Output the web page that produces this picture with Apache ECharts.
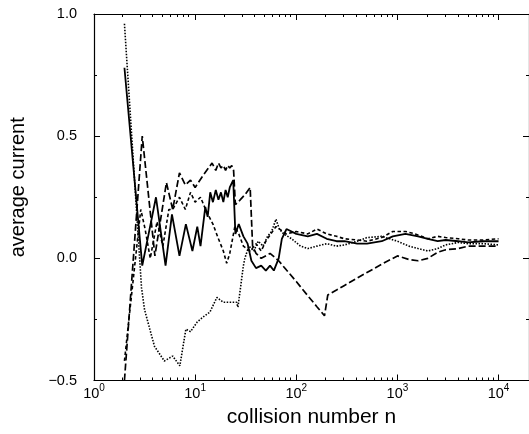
<!DOCTYPE html>
<html><head><meta charset="utf-8">
<script src="https://cdn.jsdelivr.net/npm/echarts@6/dist/echarts.min.js"></script>
<style>html,body{margin:0;padding:0;background:#fff;overflow:hidden}#c{width:529px;height:434px}</style>
</head><body><div id="c"></div>
<script>
// ---- data ----
const nSolid = [2, 3, 4.1, 5.1, 5.9, 7, 8.1, 9.4, 10.5, 11.3, 12.6, 13.3, 14.1, 15, 16, 17, 18, 19, 20, 21, 22, 23.8, 25, 27, 30, 33, 36, 40, 45, 50, 55, 60, 67, 72, 80, 100, 130, 160, 200, 250, 300, 400, 500, 700, 900, 1200, 1600, 2000, 2500, 3000, 4000, 5000, 7000, 10000];
const ySolid = [0.78, -0.03, 0.25, -0.03, 0.18, 0.01, 0.14, 0.03, 0.13, 0.05, 0.21, 0.17, 0.27, 0.23, 0.28, 0.24, 0.27, 0.23, 0.28, 0.25, 0.29, 0.32, 0.10, 0.14, 0.09, 0.06, -0.01, -0.04, -0.03, -0.05, -0.03, -0.05, 0.0, 0.08, 0.12, 0.10, 0.09, 0.10, 0.08, 0.07, 0.07, 0.06, 0.06, 0.07, 0.09, 0.10, 0.09, 0.08, 0.07, 0.075, 0.07, 0.065, 0.07, 0.07];

const nDotted = [2, 2.95, 3.16, 3.96, 4.96, 6.0, 7.06, 8.1, 9, 10.5, 12, 14, 16.4, 19, 25.7, 26.5, 30, 31, 34, 38, 42, 47, 52, 57, 63, 68, 75, 90, 110, 130, 160, 200, 250, 300, 400, 500, 700, 1000, 1300, 1600, 2000, 2500, 3000, 4000, 5000, 7000, 10000];
const yDotted = [0.96, -0.12, -0.21, -0.36, -0.42, -0.40, -0.44, -0.29, -0.30, -0.26, -0.24, -0.22, -0.16, -0.18, -0.18, -0.20, -0.03, 0.0, 0.05, 0.03, 0.07, 0.05, 0.09, 0.11, 0.16, 0.12, 0.10, 0.08, 0.05, 0.04, 0.05, 0.06, 0.05, 0.055, 0.07, 0.085, 0.09, 0.07, 0.05, 0.04, 0.03, 0.04, 0.055, 0.065, 0.06, 0.06, 0.055];

const nLongDash = [2, 3, 4, 5.2, 6, 7, 8, 9, 10, 12, 14.7, 16, 17, 18, 19, 20, 21, 22, 23, 24, 25, 28, 31, 35, 37, 40, 45, 55, 63, 67, 80, 100, 130, 160, 190, 205, 250, 300, 400, 500, 700, 1000, 1300, 1600, 2000, 2500, 3000, 4000, 5000, 7000, 10000];
const yLongDash = [-0.5, 0.5, 0.01, 0.31, 0.2, 0.35, 0.30, 0.32, 0.29, 0.34, 0.39, 0.36, 0.39, 0.37, 0.38, 0.36, 0.38, 0.37, 0.38, 0.36, 0.22, 0.24, 0.26, 0.29, 0.05, 0.02, 0.0, 0.02, 0.0, -0.01, -0.048, -0.095, -0.153, -0.198, -0.235, -0.15, -0.13, -0.111, -0.081, -0.058, -0.024, 0.01, -0.005, -0.01, 0.0, 0.025, 0.035, 0.04, 0.05, 0.05, 0.05];

const nShortDash = [2, 2.9, 3.2, 3.6, 4.2, 4.8, 5.5, 6, 7, 8, 9, 10, 11.3, 13, 15, 17, 19, 20.5, 22, 24.7, 27, 30, 35, 40, 45, 50, 56, 63, 80, 100, 130, 160, 200, 250, 300, 400, 500, 700, 900, 1200, 1500, 2000, 2500, 3000, 4000, 5000, 7000, 10000];
const yShortDash = [-0.42, 0.2, 0.12, 0.0, 0.15, 0.05, 0.2, 0.2, 0.25, 0.2, 0.27, 0.23, 0.25, 0.19, 0.14, 0.08, 0.03, -0.02, 0.02, 0.13, 0.10, 0.05, 0.03, 0.06, 0.03, 0.07, 0.10, 0.13, 0.10, 0.11, 0.10, 0.12, 0.10, 0.09, 0.08, 0.075, 0.07, 0.085, 0.11, 0.11, 0.10, 0.08, 0.09, 0.085, 0.08, 0.075, 0.075, 0.08];

const xMajorTicks = [1, 10, 100, 1000, 10000];
const xMinorTicks = [2,3,4,5,6,7,8,9,20,30,40,50,60,70,80,90,200,300,400,500,600,700,800,900,2000,3000,4000,5000,6000,7000,8000,9000];
const yMin = -0.5, yMax = 1.0, yStep = 0.5;
const xMin = 1, xMax = 20000;

// ---- chart ----
const FONT = 'Liberation Sans, Arial, Helvetica, sans-serif';
const zip = (a, b) => a.map((v, i) => [v, b[i]]);
const gridBox = {left: 91.5, right: -5.5, top: 14, bottom: 53.5};
const black = '#000';

function xAxisCfg(grid, pos, major) {
  return {
    gridIndex: grid, type: 'log', min: xMin, max: xMax, position: pos,
    axisLine: {show: major, onZero: false, lineStyle: {color: black, width: 1.2}},
    axisTick: {show: true, inside: true, length: major ? 6 : 3,
      customValues: major ? xMajorTicks : xMinorTicks, lineStyle: {color: black, width: 1}},
    axisLabel: {show: false},
    splitLine: {show: false}, minorTick: {show: false}
  };
}

const xBottom = xAxisCfg(0, 'bottom', true);
xBottom.axisLabel = {
  show: true, customValues: xMajorTicks, margin: 3,
  formatter: v => '{b|10}{s|' + Math.round(Math.log10(v)) + '}',
  rich: {
    b: {fontSize: 14.5, fontFamily: FONT, color: black, verticalAlign: 'bottom', lineHeight: 18, padding: [8, 0, 0, 0]},
    s: {fontSize: 10, fontFamily: FONT, color: black, verticalAlign: 'top', lineHeight: 18, padding: [0, 0, 0, 0]}
  }
};
xBottom.name = 'collision number n';
xBottom.nameLocation = 'middle';
xBottom.nameGap = 22;
xBottom.nameTextStyle = {fontSize: 21, fontFamily: FONT, color: black};

function yAxisCfg(grid, pos, main) {
  return {
    gridIndex: grid, type: 'value', min: yMin, max: yMax, interval: yStep, position: pos,
    axisLine: {show: main, onZero: false, lineStyle: {color: black, width: 1.2}},
    axisTick: {show: main, inside: true, length: 6, lineStyle: {color: black}},
    minorTick: {show: main, splitNumber: 2, length: 3, lineStyle: {color: black}},
    axisLabel: {show: false},
    splitLine: {show: false}
  };
}
const yLeft = yAxisCfg(0, 'left', true);
yLeft.axisLabel = {show: true, margin: 17, fontSize: 14.5, fontFamily: FONT, color: black,
  formatter: v => (v < 0 ? '\u2212' : '') + Math.abs(v).toFixed(1)};
yLeft.name = 'average current';
yLeft.nameLocation = 'middle';
yLeft.nameGap = 66;
yLeft.nameTextStyle = {fontSize: 20, fontFamily: FONT, color: black, padding: [0, 0, 0, 20]};
const yRight = yAxisCfg(0, 'right', true);
const yHidden = yAxisCfg(1, 'left', false);
yHidden.show = false;

function lineSeries(n, y, width, dash) {
  return {type: 'line', xAxisIndex: 0, yAxisIndex: 0, data: zip(n, y),
    showSymbol: false, symbol: 'none', clip: true, z: 3,
    lineStyle: {color: black, width: width, type: dash}};
}

const chart = echarts.init(document.getElementById('c'), null, {renderer: 'canvas'});
chart.setOption({
  animation: false,
  backgroundColor: '#fff',
  grid: [Object.assign({}, gridBox), Object.assign({}, gridBox)],
  xAxis: [xBottom, xAxisCfg(0, 'top', true), xAxisCfg(1, 'bottom', false), xAxisCfg(1, 'top', false)],
  yAxis: [yLeft, yRight, yHidden],
  series: [
    lineSeries(nSolid, ySolid, 1.8, 'solid'),
    lineSeries(nDotted, yDotted, 1.6, [1.5, 1.5]),
    lineSeries(nLongDash, yLongDash, 1.7, [7, 3]),
    lineSeries(nShortDash, yShortDash, 1.6, [3.5, 2.5])
  ]
});
</script></body></html>
